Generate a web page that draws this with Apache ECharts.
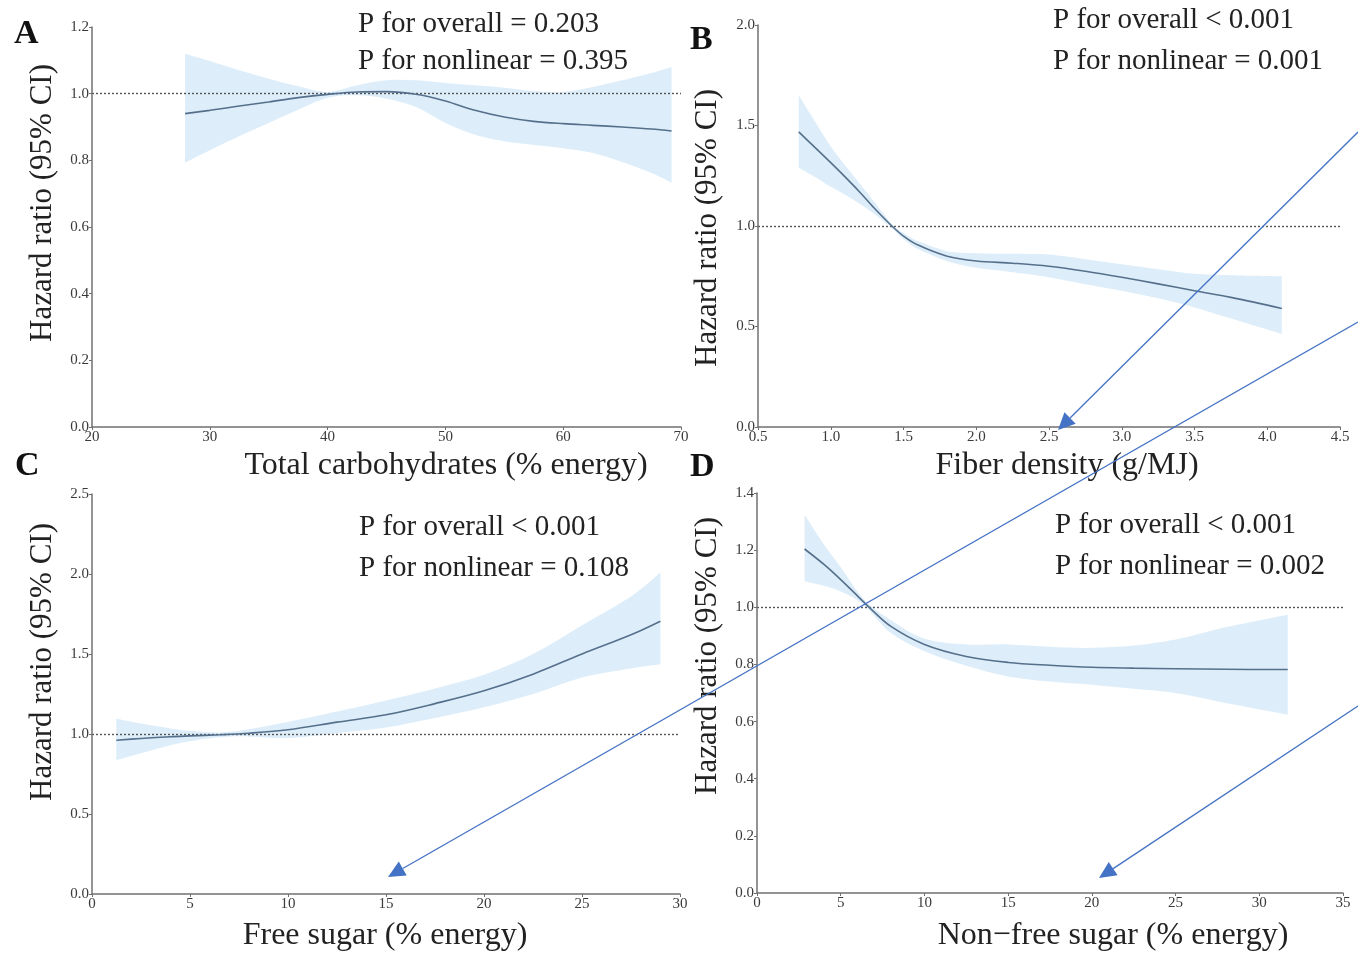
<!DOCTYPE html>
<html>
<head>
<meta charset="utf-8">
<title>Restricted cubic spline: hazard ratios by carbohydrate intake</title>
<script src="https://cdn.jsdelivr.net/npm/echarts@6/dist/echarts.min.js"></script>
<style>
  html, body { margin: 0; padding: 0; background: #ffffff; }
  #chart { width: 1358px; height: 953px; }
</style>
</head>
<body>
<div id="chart"></div>
<script>
// Panel A: total carbohydrates (% energy)
const carbX  = [27.9, 30, 32.5, 35, 37.5, 40, 42.5, 45, 47.5, 50, 52.5, 55, 57.5, 60, 62.5, 65, 67.5, 69.2];
const carbHR = [0.940, 0.950, 0.963, 0.975, 0.988, 0.998, 1.005, 1.006, 0.998, 0.978, 0.950, 0.930, 0.917, 0.910, 0.905, 0.900, 0.894, 0.888];
const carbLo = [0.793, 0.830, 0.872, 0.912, 0.952, 0.988, 0.995, 0.985, 0.960, 0.912, 0.877, 0.857, 0.846, 0.836, 0.822, 0.795, 0.762, 0.733];
const carbHi = [1.120, 1.098, 1.070, 1.045, 1.022, 1.005, 1.025, 1.040, 1.040, 1.032, 1.025, 1.018, 1.008, 1.005, 1.020, 1.040, 1.062, 1.080];

// Panel B: fiber density (g/MJ)
const fibX  = [0.78, 0.9, 1.0, 1.1, 1.2, 1.3, 1.42, 1.5, 1.6, 1.8, 2.0, 2.25, 2.5, 2.75, 3.0, 3.25, 3.5, 3.75, 4.1];
const fibHR = [1.468, 1.385, 1.315, 1.243, 1.168, 1.088, 1.000, 0.950, 0.905, 0.850, 0.826, 0.815, 0.800, 0.775, 0.745, 0.712, 0.678, 0.645, 0.590];
const fibLo = [1.290, 1.240, 1.195, 1.155, 1.110, 1.060, 0.990, 0.935, 0.885, 0.825, 0.792, 0.770, 0.745, 0.710, 0.678, 0.640, 0.595, 0.540, 0.463];
const fibHi = [1.650, 1.510, 1.395, 1.300, 1.210, 1.120, 1.010, 0.965, 0.925, 0.875, 0.865, 0.862, 0.858, 0.835, 0.810, 0.785, 0.762, 0.755, 0.750];

// Panel C: free sugar (% energy)
const freeX  = [1.24, 2.5, 4, 5, 6.5, 8, 10, 12.5, 15, 17.5, 20, 22.5, 25, 27.5, 29];
const freeHR = [0.961, 0.972, 0.983, 0.988, 0.995, 1.005, 1.027, 1.074, 1.120, 1.190, 1.270, 1.374, 1.500, 1.620, 1.705];
const freeLo = [0.837, 0.880, 0.930, 0.955, 0.980, 0.985, 0.975, 1.005, 1.040, 1.100, 1.167, 1.250, 1.353, 1.410, 1.436];
const freeHi = [1.095, 1.065, 1.035, 1.020, 1.010, 1.030, 1.075, 1.140, 1.210, 1.285, 1.370, 1.500, 1.680, 1.860, 2.010];

// Panel D: non-free sugar (% energy)
const nonX  = [2.84, 4, 5, 6, 6.7, 8, 10, 12.5, 15, 17.5, 20, 22.5, 25, 28, 31.7];
const nonHR = [1.204, 1.150, 1.097, 1.040, 1.000, 0.933, 0.870, 0.828, 0.807, 0.797, 0.790, 0.787, 0.785, 0.783, 0.782];
const nonLo = [1.091, 1.075, 1.055, 1.025, 0.990, 0.910, 0.846, 0.795, 0.758, 0.740, 0.729, 0.715, 0.700, 0.665, 0.624];
const nonHi = [1.324, 1.220, 1.140, 1.055, 1.010, 0.955, 0.890, 0.870, 0.870, 0.862, 0.858, 0.866, 0.887, 0.930, 0.974];

// Tick settings per panel
const xTicks = [
  { min: 20,  max: 70,  interval: 10,  dec: 0 },
  { min: 0.5, max: 4.5, interval: 0.5, dec: 1 },
  { min: 0,   max: 30,  interval: 5,   dec: 0 },
  { min: 0,   max: 35,  interval: 5,   dec: 0 }
];
const yTicks = [
  { min: 0, max: 1.2, interval: 0.2 },
  { min: 0, max: 2.0, interval: 0.5 },
  { min: 0, max: 2.5, interval: 0.5 },
  { min: 0, max: 1.4, interval: 0.2 }
];

const xTitles = ['Total carbohydrates (% energy)', 'Fiber density (g/MJ)', 'Free sugar (% energy)', 'Non\u2212free sugar (% energy)'];
const yTitle = 'Hazard ratio (95% CI)';
const panelLetters = ['A', 'B', 'C', 'D'];
const pOverall   = ['P for overall = 0.203', 'P for overall < 0.001', 'P for overall < 0.001', 'P for overall < 0.001'];
const pNonlinear = ['P for nonlinear = 0.395', 'P for nonlinear = 0.001', 'P for nonlinear = 0.108', 'P for nonlinear = 0.002'];

const panels = [
  { x: carbX, hr: carbHR, lo: carbLo, hi: carbHi },
  { x: fibX,  hr: fibHR,  lo: fibLo,  hi: fibHi },
  { x: freeX, hr: freeHR, lo: freeLo, hi: freeHi },
  { x: nonX,  hr: nonHR,  lo: nonLo,  hi: nonHi }
];

// ---- layout ----
const SERIF = '"Liberation Serif", "Times New Roman", Times, serif';
const grids = [
  { left: 92,  top: 27,  width: 589, height: 400 },
  { left: 758, top: 25,  width: 582, height: 402 },
  { left: 92,  top: 494, width: 588, height: 400 },
  { left: 757, top: 493, width: 586, height: 400 }
];
const letterPos = [[14, 34], [690, 40], [15, 466], [690, 467]];
const pPos = [[358, 24, 61], [1053, 20, 61], [359, 527, 568], [1055, 525, 566]];
const xTitlePos = [[446, 466], [1067, 466], [385, 936], [1113, 936]];
const yTitlePos = [[43, 203], [708, 228], [43, 662], [708, 656]];

const LINE_COLOR = '#56708c';
const BAND_COLOR = '#ddeefa';
const AXIS_COLOR = '#707070';
const LABEL_COLOR = '#3a3a3a';

// Catmull-Rom style cubic segments through screen points (for the CI band outline)
function curveSegments(pts) {
  let d = '';
  for (let i = 0; i < pts.length - 1; i++) {
    const p0 = pts[Math.max(i - 1, 0)], p1 = pts[i], p2 = pts[i + 1], p3 = pts[Math.min(i + 2, pts.length - 1)];
    const k = 1 / 6;
    const c1 = [p1[0] + (p2[0] - p0[0]) * k, p1[1] + (p2[1] - p0[1]) * k];
    const c2 = [p2[0] - (p3[0] - p1[0]) * k, p2[1] - (p3[1] - p1[1]) * k];
    d += ' C' + c1[0] + ',' + c1[1] + ' ' + c2[0] + ',' + c2[1] + ' ' + p2[0] + ',' + p2[1];
  }
  return d;
}

const xAxes = [], yAxes = [], series = [];
panels.forEach((p, i) => {
  const xt = xTicks[i], yt = yTicks[i];
  xAxes.push({
    type: 'value', gridIndex: i, min: xt.min, max: xt.max, interval: xt.interval, z: 8,
    axisLine: { show: true, onZero: false, lineStyle: { color: AXIS_COLOR, width: 1.5 } },
    axisTick: { show: true, length: 3, lineStyle: { color: AXIS_COLOR } },
    axisLabel: { fontFamily: SERIF, fontSize: 15, color: LABEL_COLOR, margin: 3,
      formatter: v => v.toFixed(xt.dec) },
    splitLine: { show: false }
  });
  yAxes.push({
    type: 'value', gridIndex: i, min: yt.min, max: yt.max, interval: yt.interval, z: 8,
    axisLine: { show: true, onZero: false, lineStyle: { color: AXIS_COLOR, width: 1.5 } },
    axisTick: { show: true, length: 3, lineStyle: { color: AXIS_COLOR } },
    axisLabel: { fontFamily: SERIF, fontSize: 15, color: LABEL_COLOR, margin: 3,
      formatter: v => v.toFixed(1) },
    splitLine: { show: false }
  });
  // 95% CI band: one closed smooth shape from the upper and lower bounds
  series.push({
    type: 'custom', xAxisIndex: i, yAxisIndex: i, z: 2, silent: true,
    data: p.x.map((x, k) => [x, p.lo[k], p.hi[k]]),
    encode: { x: 0, y: [1, 2] },
    renderItem: (params, api) => {
      if (params.dataIndex !== 0) return null;
      const up = p.x.map((x, k) => api.coord([x, p.hi[k]]));
      const low = p.x.map((x, k) => api.coord([x, p.lo[k]])).reverse();
      const d = 'M' + up[0][0] + ',' + up[0][1] + curveSegments(up) +
        ' L' + low[0][0] + ',' + low[0][1] + curveSegments(low) + ' Z';
      return { type: 'path', shape: { pathData: d }, style: { fill: BAND_COLOR, stroke: null } };
    }
  });
  // hazard ratio curve with reference line at HR = 1
  series.push({
    type: 'line', xAxisIndex: i, yAxisIndex: i, smooth: 0.35, symbol: 'none', z: 5,
    lineStyle: { color: LINE_COLOR, width: 1.6 },
    data: p.x.map((x, k) => [x, p.hr[k]]),
    markLine: {
      silent: true, symbol: 'none', label: { show: false },
      lineStyle: { color: '#555', type: [2, 2], width: 1.4 },
      data: [{ yAxis: 1 }]
    }
  });
});

// ---- text annotations ----
const graphics = [];
panelLetters.forEach((L, i) => {
  graphics.push({
    type: 'text', x: letterPos[i][0], y: letterPos[i][1], z: 10,
    style: { text: L, font: 'bold 34px ' + SERIF, fill: '#111', verticalAlign: 'middle' }
  });
  const pp = pPos[i];
  graphics.push({
    type: 'text', x: pp[0], y: pp[1], z: 10,
    style: { text: pOverall[i], font: '29px ' + SERIF, fill: '#222', verticalAlign: 'middle' }
  });
  graphics.push({
    type: 'text', x: pp[0], y: pp[2], z: 10,
    style: { text: pNonlinear[i], font: '29px ' + SERIF, fill: '#222', verticalAlign: 'middle' }
  });
  graphics.push({
    type: 'text', x: xTitlePos[i][0], y: xTitlePos[i][1], z: 10,
    style: { text: xTitles[i], font: '32px ' + SERIF, fill: '#222', align: 'center', verticalAlign: 'middle' }
  });
  graphics.push({
    type: 'text', x: yTitlePos[i][0], y: yTitlePos[i][1], rotation: Math.PI / 2, z: 10,
    style: { text: yTitle, font: '31px ' + SERIF, fill: '#222', align: 'center', verticalAlign: 'middle' }
  });
});

// ---- blue pointer arrows drawn over the figure ----
const ARROW_COLOR = '#4472c4';
const arrows = [
  [[1358, 132], [1058, 430]],
  [[1358, 322], [388, 877]],
  [[1358, 706], [1099, 878]]
];
arrows.forEach(([s, t]) => {
  const dx = t[0] - s[0], dy = t[1] - s[1];
  const len = Math.hypot(dx, dy);
  const ux = dx / len, uy = dy / len;
  const headLen = 17, headHalf = 8;
  const bx = t[0] - ux * headLen, by = t[1] - uy * headLen;
  graphics.push({
    type: 'line', z: 20, silent: true,
    shape: { x1: s[0], y1: s[1], x2: bx, y2: by },
    style: { stroke: ARROW_COLOR, lineWidth: 1.3 }
  });
  graphics.push({
    type: 'polygon', z: 20, silent: true,
    shape: { points: [t, [bx - uy * headHalf, by + ux * headHalf], [bx + uy * headHalf, by - ux * headHalf]] },
    style: { fill: ARROW_COLOR }
  });
});

const chart = echarts.init(document.getElementById('chart'), null, { renderer: 'canvas' });
chart.setOption({
  backgroundColor: '#ffffff',
  animation: false,
  grid: grids.map(g => Object.assign({ containLabel: false }, g)),
  xAxis: xAxes,
  yAxis: yAxes,
  series: series,
  graphic: graphics
});
</script>
</body>
</html>
